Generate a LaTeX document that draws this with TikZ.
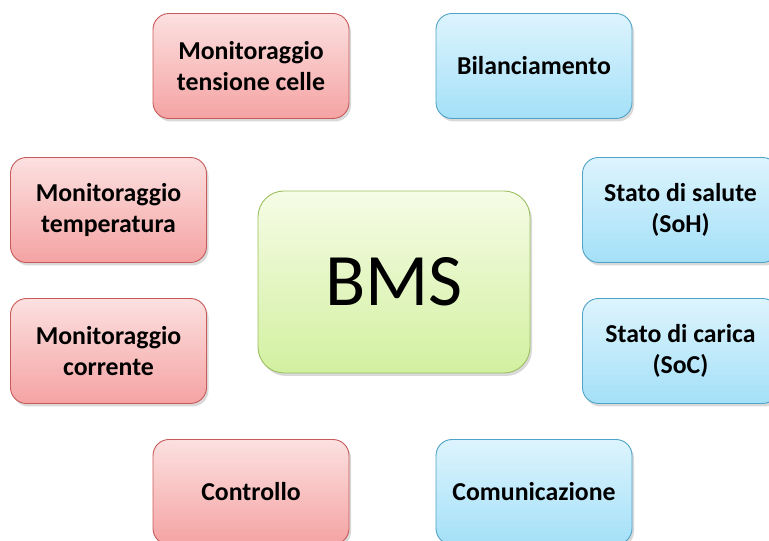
\documentclass[tikz,border=0pt]{standalone}
\usepackage{fontspec}
\setmainfont{Carlito}
\usetikzlibrary{shadows}
\definecolor{redtop}{HTML}{FCE0E0}
\definecolor{redbot}{HTML}{F5A3A3}
\definecolor{redline}{HTML}{C85A5A}
\definecolor{bluetop}{HTML}{DDF4FD}
\definecolor{bluebot}{HTML}{A4E0F8}
\definecolor{blueline}{HTML}{4FA3C6}
\definecolor{greentop}{HTML}{F6FCE6}
\definecolor{greenbot}{HTML}{D2F0A0}
\definecolor{greenline}{HTML}{9CC060}
\tikzset{
  x=1pt, y=1pt,
  basebox/.style={rounded corners=16pt, line width=0.9pt, align=center,
    font=\fontsize{25.8}{30.8}\selectfont\bfseries, text=black,
    drop shadow={shadow xshift=2pt, shadow yshift=-3pt, opacity=0.25, fill=black!60}},
  redbox/.style={basebox, draw=redline, top color=redtop, bottom color=redbot,
    minimum width=196pt, minimum height=105pt},
  bluebox/.style={basebox, draw=blueline, top color=bluetop, bottom color=bluebot,
    minimum width=196pt, minimum height=105pt},
  bmsbox/.style={basebox, rounded corners=26pt, draw=greenline, top color=greentop, bottom color=greenbot,
    minimum width=272pt, minimum height=182pt, font=\fontsize{74}{80}\selectfont}
}
\begin{document}
\begin{tikzpicture}
\useasboundingbox (0,0) rectangle (769,541);
\clip (0,0) rectangle (769,541);
\node[redbox] (tens) at (251,475) {Monitoraggio\\tensione celle};
\node[bluebox] (bil) at (534,475) {Bilanciamento};
\node[redbox] (temp) at (108.5,331) {Monitoraggio\\temperatura};
\node[redbox] (corr) at (108.5,190) {Monitoraggio\\corrente};
\node[bluebox] (soh) at (680.5,331) {Stato di salute\\(SoH)};
\node[bluebox] (soc) at (680.5,190) {Stato di carica\\(SoC)};
\node[redbox] (ctrl) at (251,49) {Controllo};
\node[bluebox] (com) at (534,49) {Comunicazione};
\node[bmsbox] (bms) at (394,259) {BMS};
\end{tikzpicture}
\end{document}
